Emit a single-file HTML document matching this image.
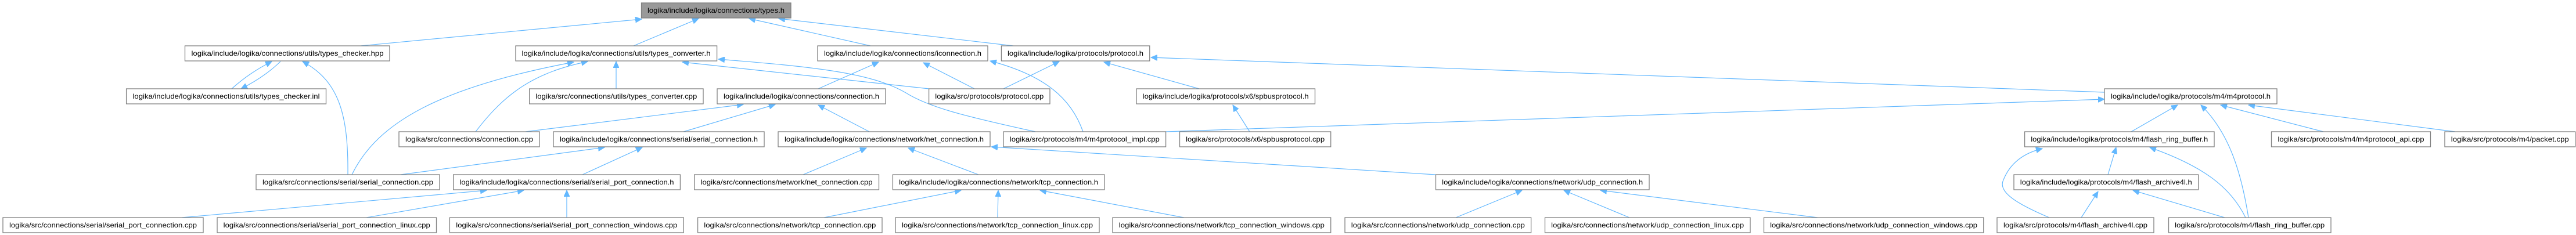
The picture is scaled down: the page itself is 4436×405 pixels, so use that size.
<!DOCTYPE html>
<html><head><meta charset="utf-8"><style>
html,body{margin:0;padding:0;background:#fff;width:4436px;height:405px;overflow:hidden}
svg{display:block}
rect{fill:#fff;stroke:#808080;stroke-width:1.3}
text{font-family:"Liberation Sans",sans-serif;font-size:12px;fill:#000}
path{fill:none;stroke:#63b8ff;stroke-width:1.2}
</style></head><body>
<svg width="4436" height="405" viewBox="0 0 4436 405" xmlns="http://www.w3.org/2000/svg">
<defs><marker id="a" markerUnits="userSpaceOnUse" markerWidth="12" markerHeight="10" refX="11" refY="5" orient="auto"><path d="M0,0 L11,5 L0,10 Z" style="fill:#63b8ff;stroke:#63b8ff;stroke-width:1"/></marker></defs>
<g marker-end="url(#a)">
<path d="M621,79 L1105,33"/>
<path d="M1091,79 L1203,32"/>
<path d="M1499,79 L1290,32"/>
<path d="M1745,79 L1341,32"/>
<path d="M399,153 Q430,125 468,106"/>
<path d="M483,106 Q455,133 415,153"/>
<path d="M599,301 C600,200 585,140 521,106"/>
<path d="M606,301 C650,210 760,150 988,107"/>
<path d="M819,227 C870,160 920,125 1012,106"/>
<path d="M1061,153 L1061,106"/>
<path d="M1600,153 L1175,107"/>
<path d="M1783,227 C1660,200 1600,185 1560,160 C1500,125 1400,115 1237,102"/>
<path d="M1409,153 L1513,107"/>
<path d="M1678,153 L1590,108"/>
<path d="M1728,153 L1824,106"/>
<path d="M1865,227 C1845,170 1800,130 1705,105"/>
<path d="M2065,153 L1901,107"/>
<path d="M3624,159 L1982,99"/>
<path d="M2152,227 L2123,181"/>
<path d="M2007,227 L3624,171"/>
<path d="M905,227 L1280,180"/>
<path d="M1177,227 L1335,180"/>
<path d="M1497,227 L1409,181"/>
<path d="M690,301 L1041,254"/>
<path d="M1003,301 L1106,254"/>
<path d="M313,375 L838,328"/>
<path d="M631,375 L902,328"/>
<path d="M976,375 L976,328"/>
<path d="M1383,301 L1492,255"/>
<path d="M1685,301 L1564,255"/>
<path d="M2472,301 L1707,253"/>
<path d="M1419,375 L1655,328"/>
<path d="M1718,375 L1719,328"/>
<path d="M2039,375 L1791,328"/>
<path d="M2507,375 L2621,328"/>
<path d="M2806,375 L2693,328"/>
<path d="M3130,375 L2756,328"/>
<path d="M3670,227 L3750,181"/>
<path d="M3872,375 C3860,300 3840,230 3790,181"/>
<path d="M4001,227 L3824,181"/>
<path d="M4228,227 L3872,181"/>
<path d="M3630,301 L3644,254"/>
<path d="M3529,375 C3470,350 3440,330 3450,310 C3460,285 3480,265 3517,256"/>
<path d="M3584,375 L3613,330"/>
<path d="M3831,375 L3673,328"/>
<path d="M3867,375 C3840,320 3790,285 3702,254"/>
</g>
<rect x="1104.5" y="5" width="257.5" height="26" style="fill:#999"/>
<text x="1233" y="22" text-anchor="middle" textLength="236" lengthAdjust="spacingAndGlyphs">logika/include/logika/connections/types.h</text>

<rect x="318.5" y="79" width="352.5" height="26"/><text x="495" y="96" text-anchor="middle" textLength="331" lengthAdjust="spacingAndGlyphs">logika/include/logika/connections/utils/types_checker.hpp</text>
<rect x="888" y="79" width="346.6" height="26"/><text x="1061" y="96" text-anchor="middle" textLength="325" lengthAdjust="spacingAndGlyphs">logika/include/logika/connections/utils/types_converter.h</text>
<rect x="1408" y="79" width="293" height="26"/><text x="1554.5" y="96" text-anchor="middle" textLength="271" lengthAdjust="spacingAndGlyphs">logika/include/logika/connections/iconnection.h</text>
<rect x="1724.4" y="79" width="255.4" height="26"/><text x="1852" y="96" text-anchor="middle" textLength="234" lengthAdjust="spacingAndGlyphs">logika/include/logika/protocols/protocol.h</text>

<rect x="217.6" y="153" width="343.9" height="26"/><text x="389.5" y="170" text-anchor="middle" textLength="322" lengthAdjust="spacingAndGlyphs">logika/include/logika/connections/utils/types_checker.inl</text>
<rect x="911.7" y="153" width="299.3" height="26"/><text x="1061.3" y="170" text-anchor="middle" textLength="278" lengthAdjust="spacingAndGlyphs">logika/src/connections/utils/types_converter.cpp</text>
<rect x="1235" y="153" width="290" height="26"/><text x="1380" y="170" text-anchor="middle" textLength="268" lengthAdjust="spacingAndGlyphs">logika/include/logika/connections/connection.h</text>
<rect x="1599.6" y="153" width="208.4" height="26"/><text x="1703.8" y="170" text-anchor="middle" textLength="187" lengthAdjust="spacingAndGlyphs">logika/src/protocols/protocol.cpp</text>
<rect x="1957" y="153" width="307.5" height="26"/><text x="2110.7" y="170" text-anchor="middle" textLength="286" lengthAdjust="spacingAndGlyphs">logika/include/logika/protocols/x6/spbusprotocol.h</text>
<rect x="3624" y="153" width="297" height="26"/><text x="3772.5" y="170" text-anchor="middle" textLength="275" lengthAdjust="spacingAndGlyphs">logika/include/logika/protocols/m4/m4protocol.h</text>

<rect x="687" y="227" width="242" height="26"/><text x="808" y="244" text-anchor="middle" textLength="220" lengthAdjust="spacingAndGlyphs">logika/src/connections/connection.cpp</text>
<rect x="953" y="227" width="363" height="26"/><text x="1134.5" y="244" text-anchor="middle" textLength="341" lengthAdjust="spacingAndGlyphs">logika/include/logika/connections/serial/serial_connection.h</text>
<rect x="1340" y="227" width="365" height="26"/><text x="1522.5" y="244" text-anchor="middle" textLength="343" lengthAdjust="spacingAndGlyphs">logika/include/logika/connections/network/net_connection.h</text>
<rect x="1728" y="227" width="279.6" height="26"/><text x="1867.8" y="244" text-anchor="middle" textLength="258" lengthAdjust="spacingAndGlyphs">logika/src/protocols/m4/m4protocol_impl.cpp</text>
<rect x="2031.5" y="227" width="260.2" height="26"/><text x="2161.6" y="244" text-anchor="middle" textLength="239" lengthAdjust="spacingAndGlyphs">logika/src/protocols/x6/spbusprotocol.cpp</text>
<rect x="3486.6" y="227" width="326.4" height="26"/><text x="3649.8" y="244" text-anchor="middle" textLength="305" lengthAdjust="spacingAndGlyphs">logika/include/logika/protocols/m4/flash_ring_buffer.h</text>
<rect x="3911.5" y="227" width="274" height="26"/><text x="4048.5" y="244" text-anchor="middle" textLength="252" lengthAdjust="spacingAndGlyphs">logika/src/protocols/m4/m4protocol_api.cpp</text>
<rect x="4210" y="227" width="224.7" height="26"/><text x="4322.3" y="244" text-anchor="middle" textLength="203" lengthAdjust="spacingAndGlyphs">logika/src/protocols/m4/packet.cpp</text>

<rect x="441" y="301" width="316" height="26"/><text x="599" y="318" text-anchor="middle" textLength="294" lengthAdjust="spacingAndGlyphs">logika/src/connections/serial/serial_connection.cpp</text>
<rect x="780.7" y="301" width="390.7" height="26"/><text x="976" y="318" text-anchor="middle" textLength="369" lengthAdjust="spacingAndGlyphs">logika/include/logika/connections/serial/serial_port_connection.h</text>
<rect x="1195.8" y="301" width="317.7" height="26"/><text x="1354.6" y="318" text-anchor="middle" textLength="296" lengthAdjust="spacingAndGlyphs">logika/src/connections/network/net_connection.cpp</text>
<rect x="1537.4" y="301" width="364.5" height="26"/><text x="1719.6" y="318" text-anchor="middle" textLength="343" lengthAdjust="spacingAndGlyphs">logika/include/logika/connections/network/tcp_connection.h</text>
<rect x="2472.5" y="301" width="367.5" height="26"/><text x="2656.2" y="318" text-anchor="middle" textLength="346" lengthAdjust="spacingAndGlyphs">logika/include/logika/connections/network/udp_connection.h</text>
<rect x="3468" y="301" width="317.7" height="26"/><text x="3626.8" y="318" text-anchor="middle" textLength="296" lengthAdjust="spacingAndGlyphs">logika/include/logika/protocols/m4/flash_archive4l.h</text>

<rect x="5" y="375" width="345" height="26"/><text x="177.5" y="392" text-anchor="middle" textLength="323" lengthAdjust="spacingAndGlyphs">logika/src/connections/serial/serial_port_connection.cpp</text>
<rect x="374" y="375" width="377.5" height="26"/><text x="562.7" y="392" text-anchor="middle" textLength="356" lengthAdjust="spacingAndGlyphs">logika/src/connections/serial/serial_port_connection_linux.cpp</text>
<rect x="774.4" y="375" width="402.8" height="26"/><text x="975.8" y="392" text-anchor="middle" textLength="381" lengthAdjust="spacingAndGlyphs">logika/src/connections/serial/serial_port_connection_windows.cpp</text>
<rect x="1201.6" y="375" width="317.4" height="26"/><text x="1360.3" y="392" text-anchor="middle" textLength="296" lengthAdjust="spacingAndGlyphs">logika/src/connections/network/tcp_connection.cpp</text>
<rect x="1542" y="375" width="351" height="26"/><text x="1717.5" y="392" text-anchor="middle" textLength="329" lengthAdjust="spacingAndGlyphs">logika/src/connections/network/tcp_connection_linux.cpp</text>
<rect x="1916" y="375" width="375.7" height="26"/><text x="2103.8" y="392" text-anchor="middle" textLength="354" lengthAdjust="spacingAndGlyphs">logika/src/connections/network/tcp_connection_windows.cpp</text>
<rect x="2316" y="375" width="320.6" height="26"/><text x="2476.3" y="392" text-anchor="middle" textLength="299" lengthAdjust="spacingAndGlyphs">logika/src/connections/network/udp_connection.cpp</text>
<rect x="2660.5" y="375" width="353.5" height="26"/><text x="2837.2" y="392" text-anchor="middle" textLength="332" lengthAdjust="spacingAndGlyphs">logika/src/connections/network/udp_connection_linux.cpp</text>
<rect x="3037.5" y="375" width="378.3" height="26"/><text x="3226.6" y="392" text-anchor="middle" textLength="357" lengthAdjust="spacingAndGlyphs">logika/src/connections/network/udp_connection_windows.cpp</text>
<rect x="3439" y="375" width="270" height="26"/><text x="3574" y="392" text-anchor="middle" textLength="248" lengthAdjust="spacingAndGlyphs">logika/src/protocols/m4/flash_archive4l.cpp</text>
<rect x="3734.5" y="375" width="279.5" height="26"/><text x="3874.2" y="392" text-anchor="middle" textLength="258" lengthAdjust="spacingAndGlyphs">logika/src/protocols/m4/flash_ring_buffer.cpp</text>
</svg>
</body></html>
